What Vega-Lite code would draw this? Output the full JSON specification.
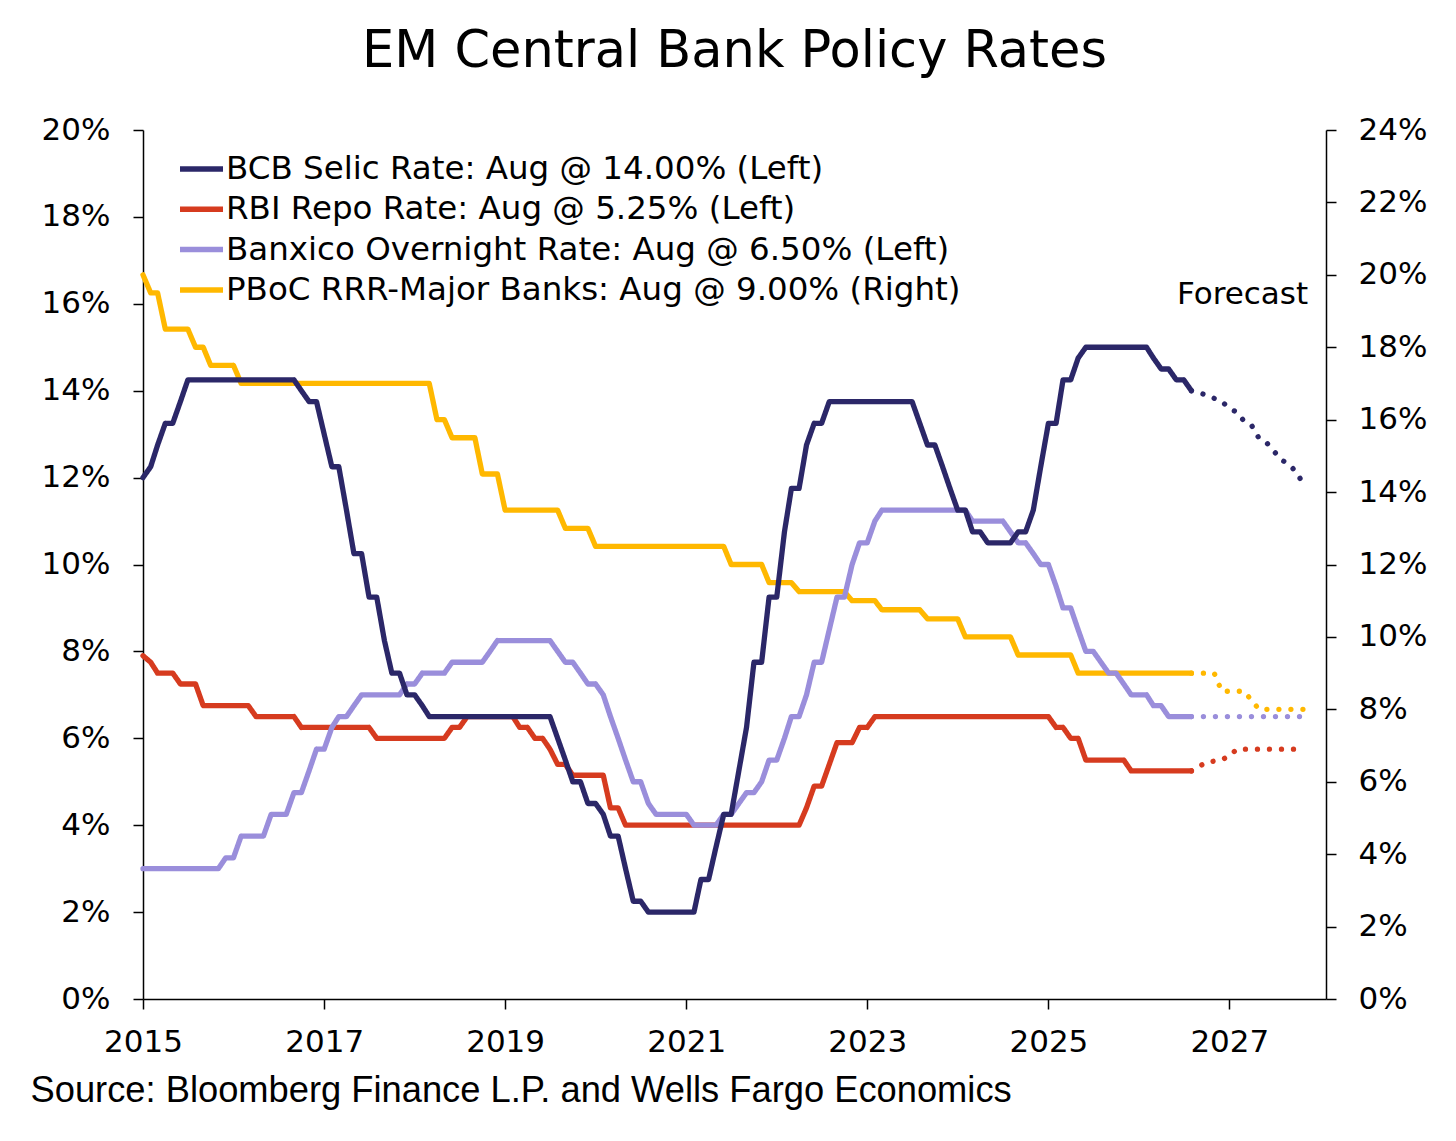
{
  "$schema": "https://vega.github.io/schema/vega-lite/v6.json",
  "width": 1183,
  "height": 869,
  "autosize": {"type": "none"},
  "padding": {"left": 143, "top": 130, "right": 130, "bottom": 142},
  "background": "white",
  "title": {
    "text": "EM Central Bank Policy Rates",
    "font": "DejaVu Sans",
    "fontSize": 51,
    "fontWeight": "normal",
    "color": "black",
    "anchor": "middle",
    "offset": 36
  },
  "config": {
    "view": {"stroke": null},
    "axis": {
      "domainColor": "black",
      "domainWidth": 1.5,
      "tickColor": "black",
      "tickWidth": 1.5,
      "tickSize": 10,
      "labelColor": "black",
      "labelFont": "DejaVu Sans",
      "labelFontSize": 31,
      "grid": false,
      "titleColor": "black"
    },
    "legend": {
      "orient": "none",
      "legendX": 34,
      "legendY": 23.5,
      "padding": 0,
      "symbolType": "stroke",
      "symbolSize": 1849,
      "symbolStrokeWidth": 5.5,
      "labelFont": "DejaVu Sans",
      "labelFontSize": 32.5,
      "labelColor": "black",
      "labelLimit": 1000,
      "labelOffset": 0,
      "clipHeight": 31,
      "rowPadding": 7.3
    }
  },
  "datasets": {
    "rates": [
      {"s": "PBOC", "d": "2015-01", "v": 20, "f": 0},
      {"s": "PBOC", "d": "2015-02", "v": 19.5, "f": 0},
      {"s": "PBOC", "d": "2015-03", "v": 19.5, "f": 0},
      {"s": "PBOC", "d": "2015-04", "v": 18.5, "f": 0},
      {"s": "PBOC", "d": "2015-07", "v": 18.5, "f": 0},
      {"s": "PBOC", "d": "2015-08", "v": 18, "f": 0},
      {"s": "PBOC", "d": "2015-09", "v": 18, "f": 0},
      {"s": "PBOC", "d": "2015-10", "v": 17.5, "f": 0},
      {"s": "PBOC", "d": "2016-01", "v": 17.5, "f": 0},
      {"s": "PBOC", "d": "2016-02", "v": 17, "f": 0},
      {"s": "PBOC", "d": "2018-03", "v": 17, "f": 0},
      {"s": "PBOC", "d": "2018-04", "v": 16, "f": 0},
      {"s": "PBOC", "d": "2018-05", "v": 16, "f": 0},
      {"s": "PBOC", "d": "2018-06", "v": 15.5, "f": 0},
      {"s": "PBOC", "d": "2018-09", "v": 15.5, "f": 0},
      {"s": "PBOC", "d": "2018-10", "v": 14.5, "f": 0},
      {"s": "PBOC", "d": "2018-12", "v": 14.5, "f": 0},
      {"s": "PBOC", "d": "2019-01", "v": 13.5, "f": 0},
      {"s": "PBOC", "d": "2019-08", "v": 13.5, "f": 0},
      {"s": "PBOC", "d": "2019-09", "v": 13, "f": 0},
      {"s": "PBOC", "d": "2019-12", "v": 13, "f": 0},
      {"s": "PBOC", "d": "2020-01", "v": 12.5, "f": 0},
      {"s": "PBOC", "d": "2021-06", "v": 12.5, "f": 0},
      {"s": "PBOC", "d": "2021-07", "v": 12, "f": 0},
      {"s": "PBOC", "d": "2021-11", "v": 12, "f": 0},
      {"s": "PBOC", "d": "2021-12", "v": 11.5, "f": 0},
      {"s": "PBOC", "d": "2022-03", "v": 11.5, "f": 0},
      {"s": "PBOC", "d": "2022-04", "v": 11.25, "f": 0},
      {"s": "PBOC", "d": "2022-10", "v": 11.25, "f": 0},
      {"s": "PBOC", "d": "2022-11", "v": 11, "f": 0},
      {"s": "PBOC", "d": "2023-02", "v": 11, "f": 0},
      {"s": "PBOC", "d": "2023-03", "v": 10.75, "f": 0},
      {"s": "PBOC", "d": "2023-08", "v": 10.75, "f": 0},
      {"s": "PBOC", "d": "2023-09", "v": 10.5, "f": 0},
      {"s": "PBOC", "d": "2024-01", "v": 10.5, "f": 0},
      {"s": "PBOC", "d": "2024-02", "v": 10, "f": 0},
      {"s": "PBOC", "d": "2024-08", "v": 10, "f": 0},
      {"s": "PBOC", "d": "2024-09", "v": 9.5, "f": 0},
      {"s": "PBOC", "d": "2025-04", "v": 9.5, "f": 0},
      {"s": "PBOC", "d": "2025-05", "v": 9, "f": 0},
      {"s": "PBOC", "d": "2026-08", "v": 9, "f": 0},
      {"s": "PBOC", "d": "2026-08", "v": 9, "f": 1},
      {"s": "PBOC", "d": "2026-11", "v": 9, "f": 1},
      {"s": "PBOC", "d": "2026-12", "v": 8.5, "f": 1},
      {"s": "PBOC", "d": "2027-03", "v": 8.5, "f": 1},
      {"s": "PBOC", "d": "2027-05", "v": 8, "f": 1},
      {"s": "PBOC", "d": "2027-11", "v": 8, "f": 1},

      {"s": "RBI", "d": "2015-01", "v": 7.9, "f": 0},
      {"s": "RBI", "d": "2015-02", "v": 7.75, "f": 0},
      {"s": "RBI", "d": "2015-03", "v": 7.5, "f": 0},
      {"s": "RBI", "d": "2015-05", "v": 7.5, "f": 0},
      {"s": "RBI", "d": "2015-06", "v": 7.25, "f": 0},
      {"s": "RBI", "d": "2015-08", "v": 7.25, "f": 0},
      {"s": "RBI", "d": "2015-09", "v": 6.75, "f": 0},
      {"s": "RBI", "d": "2016-03", "v": 6.75, "f": 0},
      {"s": "RBI", "d": "2016-04", "v": 6.5, "f": 0},
      {"s": "RBI", "d": "2016-09", "v": 6.5, "f": 0},
      {"s": "RBI", "d": "2016-10", "v": 6.25, "f": 0},
      {"s": "RBI", "d": "2017-07", "v": 6.25, "f": 0},
      {"s": "RBI", "d": "2017-08", "v": 6, "f": 0},
      {"s": "RBI", "d": "2018-05", "v": 6, "f": 0},
      {"s": "RBI", "d": "2018-06", "v": 6.25, "f": 0},
      {"s": "RBI", "d": "2018-07", "v": 6.25, "f": 0},
      {"s": "RBI", "d": "2018-08", "v": 6.5, "f": 0},
      {"s": "RBI", "d": "2019-02", "v": 6.5, "f": 0},
      {"s": "RBI", "d": "2019-03", "v": 6.25, "f": 0},
      {"s": "RBI", "d": "2019-04", "v": 6.25, "f": 0},
      {"s": "RBI", "d": "2019-05", "v": 6, "f": 0},
      {"s": "RBI", "d": "2019-06", "v": 6, "f": 0},
      {"s": "RBI", "d": "2019-07", "v": 5.75, "f": 0},
      {"s": "RBI", "d": "2019-08", "v": 5.4, "f": 0},
      {"s": "RBI", "d": "2019-09", "v": 5.4, "f": 0},
      {"s": "RBI", "d": "2019-10", "v": 5.15, "f": 0},
      {"s": "RBI", "d": "2020-02", "v": 5.15, "f": 0},
      {"s": "RBI", "d": "2020-03", "v": 4.4, "f": 0},
      {"s": "RBI", "d": "2020-04", "v": 4.4, "f": 0},
      {"s": "RBI", "d": "2020-05", "v": 4, "f": 0},
      {"s": "RBI", "d": "2022-04", "v": 4, "f": 0},
      {"s": "RBI", "d": "2022-05", "v": 4.4, "f": 0},
      {"s": "RBI", "d": "2022-06", "v": 4.9, "f": 0},
      {"s": "RBI", "d": "2022-07", "v": 4.9, "f": 0},
      {"s": "RBI", "d": "2022-08", "v": 5.4, "f": 0},
      {"s": "RBI", "d": "2022-09", "v": 5.9, "f": 0},
      {"s": "RBI", "d": "2022-11", "v": 5.9, "f": 0},
      {"s": "RBI", "d": "2022-12", "v": 6.25, "f": 0},
      {"s": "RBI", "d": "2023-01", "v": 6.25, "f": 0},
      {"s": "RBI", "d": "2023-02", "v": 6.5, "f": 0},
      {"s": "RBI", "d": "2025-01", "v": 6.5, "f": 0},
      {"s": "RBI", "d": "2025-02", "v": 6.25, "f": 0},
      {"s": "RBI", "d": "2025-03", "v": 6.25, "f": 0},
      {"s": "RBI", "d": "2025-04", "v": 6, "f": 0},
      {"s": "RBI", "d": "2025-05", "v": 6, "f": 0},
      {"s": "RBI", "d": "2025-06", "v": 5.5, "f": 0},
      {"s": "RBI", "d": "2025-11", "v": 5.5, "f": 0},
      {"s": "RBI", "d": "2025-12", "v": 5.25, "f": 0},
      {"s": "RBI", "d": "2026-08", "v": 5.25, "f": 0},
      {"s": "RBI", "d": "2026-08", "v": 5.25, "f": 1},
      {"s": "RBI", "d": "2026-10", "v": 5.45, "f": 1},
      {"s": "RBI", "d": "2026-12", "v": 5.5, "f": 1},
      {"s": "RBI", "d": "2027-01", "v": 5.6, "f": 1},
      {"s": "RBI", "d": "2027-02", "v": 5.75, "f": 1},
      {"s": "RBI", "d": "2027-11", "v": 5.75, "f": 1},

      {"s": "BNX", "d": "2015-01", "v": 3, "f": 0},
      {"s": "BNX", "d": "2015-11", "v": 3, "f": 0},
      {"s": "BNX", "d": "2015-12", "v": 3.25, "f": 0},
      {"s": "BNX", "d": "2016-01", "v": 3.25, "f": 0},
      {"s": "BNX", "d": "2016-02", "v": 3.75, "f": 0},
      {"s": "BNX", "d": "2016-05", "v": 3.75, "f": 0},
      {"s": "BNX", "d": "2016-06", "v": 4.25, "f": 0},
      {"s": "BNX", "d": "2016-08", "v": 4.25, "f": 0},
      {"s": "BNX", "d": "2016-09", "v": 4.75, "f": 0},
      {"s": "BNX", "d": "2016-10", "v": 4.75, "f": 0},
      {"s": "BNX", "d": "2016-11", "v": 5.25, "f": 0},
      {"s": "BNX", "d": "2016-12", "v": 5.75, "f": 0},
      {"s": "BNX", "d": "2017-01", "v": 5.75, "f": 0},
      {"s": "BNX", "d": "2017-02", "v": 6.25, "f": 0},
      {"s": "BNX", "d": "2017-03", "v": 6.5, "f": 0},
      {"s": "BNX", "d": "2017-04", "v": 6.5, "f": 0},
      {"s": "BNX", "d": "2017-05", "v": 6.75, "f": 0},
      {"s": "BNX", "d": "2017-06", "v": 7, "f": 0},
      {"s": "BNX", "d": "2017-11", "v": 7, "f": 0},
      {"s": "BNX", "d": "2017-12", "v": 7.25, "f": 0},
      {"s": "BNX", "d": "2018-01", "v": 7.25, "f": 0},
      {"s": "BNX", "d": "2018-02", "v": 7.5, "f": 0},
      {"s": "BNX", "d": "2018-05", "v": 7.5, "f": 0},
      {"s": "BNX", "d": "2018-06", "v": 7.75, "f": 0},
      {"s": "BNX", "d": "2018-10", "v": 7.75, "f": 0},
      {"s": "BNX", "d": "2018-11", "v": 8, "f": 0},
      {"s": "BNX", "d": "2018-12", "v": 8.25, "f": 0},
      {"s": "BNX", "d": "2019-07", "v": 8.25, "f": 0},
      {"s": "BNX", "d": "2019-08", "v": 8, "f": 0},
      {"s": "BNX", "d": "2019-09", "v": 7.75, "f": 0},
      {"s": "BNX", "d": "2019-10", "v": 7.75, "f": 0},
      {"s": "BNX", "d": "2019-11", "v": 7.5, "f": 0},
      {"s": "BNX", "d": "2019-12", "v": 7.25, "f": 0},
      {"s": "BNX", "d": "2020-01", "v": 7.25, "f": 0},
      {"s": "BNX", "d": "2020-02", "v": 7, "f": 0},
      {"s": "BNX", "d": "2020-03", "v": 6.5, "f": 0},
      {"s": "BNX", "d": "2020-04", "v": 6, "f": 0},
      {"s": "BNX", "d": "2020-05", "v": 5.5, "f": 0},
      {"s": "BNX", "d": "2020-06", "v": 5, "f": 0},
      {"s": "BNX", "d": "2020-07", "v": 5, "f": 0},
      {"s": "BNX", "d": "2020-08", "v": 4.5, "f": 0},
      {"s": "BNX", "d": "2020-09", "v": 4.25, "f": 0},
      {"s": "BNX", "d": "2021-01", "v": 4.25, "f": 0},
      {"s": "BNX", "d": "2021-02", "v": 4, "f": 0},
      {"s": "BNX", "d": "2021-05", "v": 4, "f": 0},
      {"s": "BNX", "d": "2021-06", "v": 4.25, "f": 0},
      {"s": "BNX", "d": "2021-07", "v": 4.25, "f": 0},
      {"s": "BNX", "d": "2021-08", "v": 4.5, "f": 0},
      {"s": "BNX", "d": "2021-09", "v": 4.75, "f": 0},
      {"s": "BNX", "d": "2021-10", "v": 4.75, "f": 0},
      {"s": "BNX", "d": "2021-11", "v": 5, "f": 0},
      {"s": "BNX", "d": "2021-12", "v": 5.5, "f": 0},
      {"s": "BNX", "d": "2022-01", "v": 5.5, "f": 0},
      {"s": "BNX", "d": "2022-02", "v": 6, "f": 0},
      {"s": "BNX", "d": "2022-03", "v": 6.5, "f": 0},
      {"s": "BNX", "d": "2022-04", "v": 6.5, "f": 0},
      {"s": "BNX", "d": "2022-05", "v": 7, "f": 0},
      {"s": "BNX", "d": "2022-06", "v": 7.75, "f": 0},
      {"s": "BNX", "d": "2022-07", "v": 7.75, "f": 0},
      {"s": "BNX", "d": "2022-08", "v": 8.5, "f": 0},
      {"s": "BNX", "d": "2022-09", "v": 9.25, "f": 0},
      {"s": "BNX", "d": "2022-10", "v": 9.25, "f": 0},
      {"s": "BNX", "d": "2022-11", "v": 10, "f": 0},
      {"s": "BNX", "d": "2022-12", "v": 10.5, "f": 0},
      {"s": "BNX", "d": "2023-01", "v": 10.5, "f": 0},
      {"s": "BNX", "d": "2023-02", "v": 11, "f": 0},
      {"s": "BNX", "d": "2023-03", "v": 11.25, "f": 0},
      {"s": "BNX", "d": "2024-02", "v": 11.25, "f": 0},
      {"s": "BNX", "d": "2024-03", "v": 11, "f": 0},
      {"s": "BNX", "d": "2024-07", "v": 11, "f": 0},
      {"s": "BNX", "d": "2024-08", "v": 10.75, "f": 0},
      {"s": "BNX", "d": "2024-09", "v": 10.5, "f": 0},
      {"s": "BNX", "d": "2024-10", "v": 10.5, "f": 0},
      {"s": "BNX", "d": "2024-11", "v": 10.25, "f": 0},
      {"s": "BNX", "d": "2024-12", "v": 10, "f": 0},
      {"s": "BNX", "d": "2025-01", "v": 10, "f": 0},
      {"s": "BNX", "d": "2025-02", "v": 9.5, "f": 0},
      {"s": "BNX", "d": "2025-03", "v": 9, "f": 0},
      {"s": "BNX", "d": "2025-04", "v": 9, "f": 0},
      {"s": "BNX", "d": "2025-05", "v": 8.5, "f": 0},
      {"s": "BNX", "d": "2025-06", "v": 8, "f": 0},
      {"s": "BNX", "d": "2025-07", "v": 8, "f": 0},
      {"s": "BNX", "d": "2025-08", "v": 7.75, "f": 0},
      {"s": "BNX", "d": "2025-09", "v": 7.5, "f": 0},
      {"s": "BNX", "d": "2025-10", "v": 7.5, "f": 0},
      {"s": "BNX", "d": "2025-11", "v": 7.25, "f": 0},
      {"s": "BNX", "d": "2025-12", "v": 7, "f": 0},
      {"s": "BNX", "d": "2026-02", "v": 7, "f": 0},
      {"s": "BNX", "d": "2026-03", "v": 6.75, "f": 0},
      {"s": "BNX", "d": "2026-04", "v": 6.75, "f": 0},
      {"s": "BNX", "d": "2026-05", "v": 6.5, "f": 0},
      {"s": "BNX", "d": "2026-08", "v": 6.5, "f": 0},
      {"s": "BNX", "d": "2026-08", "v": 6.5, "f": 1},
      {"s": "BNX", "d": "2027-11", "v": 6.5, "f": 1},

      {"s": "BCB", "d": "2015-01", "v": 12, "f": 0},
      {"s": "BCB", "d": "2015-02", "v": 12.25, "f": 0},
      {"s": "BCB", "d": "2015-03", "v": 12.75, "f": 0},
      {"s": "BCB", "d": "2015-04", "v": 13.25, "f": 0},
      {"s": "BCB", "d": "2015-05", "v": 13.25, "f": 0},
      {"s": "BCB", "d": "2015-06", "v": 13.75, "f": 0},
      {"s": "BCB", "d": "2015-07", "v": 14.25, "f": 0},
      {"s": "BCB", "d": "2016-09", "v": 14.25, "f": 0},
      {"s": "BCB", "d": "2016-10", "v": 14, "f": 0},
      {"s": "BCB", "d": "2016-11", "v": 13.75, "f": 0},
      {"s": "BCB", "d": "2016-12", "v": 13.75, "f": 0},
      {"s": "BCB", "d": "2017-01", "v": 13, "f": 0},
      {"s": "BCB", "d": "2017-02", "v": 12.25, "f": 0},
      {"s": "BCB", "d": "2017-03", "v": 12.25, "f": 0},
      {"s": "BCB", "d": "2017-04", "v": 11.25, "f": 0},
      {"s": "BCB", "d": "2017-05", "v": 10.25, "f": 0},
      {"s": "BCB", "d": "2017-06", "v": 10.25, "f": 0},
      {"s": "BCB", "d": "2017-07", "v": 9.25, "f": 0},
      {"s": "BCB", "d": "2017-08", "v": 9.25, "f": 0},
      {"s": "BCB", "d": "2017-09", "v": 8.25, "f": 0},
      {"s": "BCB", "d": "2017-10", "v": 7.5, "f": 0},
      {"s": "BCB", "d": "2017-11", "v": 7.5, "f": 0},
      {"s": "BCB", "d": "2017-12", "v": 7, "f": 0},
      {"s": "BCB", "d": "2018-01", "v": 7, "f": 0},
      {"s": "BCB", "d": "2018-02", "v": 6.75, "f": 0},
      {"s": "BCB", "d": "2018-03", "v": 6.5, "f": 0},
      {"s": "BCB", "d": "2019-07", "v": 6.5, "f": 0},
      {"s": "BCB", "d": "2019-08", "v": 6, "f": 0},
      {"s": "BCB", "d": "2019-09", "v": 5.5, "f": 0},
      {"s": "BCB", "d": "2019-10", "v": 5, "f": 0},
      {"s": "BCB", "d": "2019-11", "v": 5, "f": 0},
      {"s": "BCB", "d": "2019-12", "v": 4.5, "f": 0},
      {"s": "BCB", "d": "2020-01", "v": 4.5, "f": 0},
      {"s": "BCB", "d": "2020-02", "v": 4.25, "f": 0},
      {"s": "BCB", "d": "2020-03", "v": 3.75, "f": 0},
      {"s": "BCB", "d": "2020-04", "v": 3.75, "f": 0},
      {"s": "BCB", "d": "2020-05", "v": 3, "f": 0},
      {"s": "BCB", "d": "2020-06", "v": 2.25, "f": 0},
      {"s": "BCB", "d": "2020-07", "v": 2.25, "f": 0},
      {"s": "BCB", "d": "2020-08", "v": 2, "f": 0},
      {"s": "BCB", "d": "2021-02", "v": 2, "f": 0},
      {"s": "BCB", "d": "2021-03", "v": 2.75, "f": 0},
      {"s": "BCB", "d": "2021-04", "v": 2.75, "f": 0},
      {"s": "BCB", "d": "2021-05", "v": 3.5, "f": 0},
      {"s": "BCB", "d": "2021-06", "v": 4.25, "f": 0},
      {"s": "BCB", "d": "2021-07", "v": 4.25, "f": 0},
      {"s": "BCB", "d": "2021-08", "v": 5.25, "f": 0},
      {"s": "BCB", "d": "2021-09", "v": 6.25, "f": 0},
      {"s": "BCB", "d": "2021-10", "v": 7.75, "f": 0},
      {"s": "BCB", "d": "2021-11", "v": 7.75, "f": 0},
      {"s": "BCB", "d": "2021-12", "v": 9.25, "f": 0},
      {"s": "BCB", "d": "2022-01", "v": 9.25, "f": 0},
      {"s": "BCB", "d": "2022-02", "v": 10.75, "f": 0},
      {"s": "BCB", "d": "2022-03", "v": 11.75, "f": 0},
      {"s": "BCB", "d": "2022-04", "v": 11.75, "f": 0},
      {"s": "BCB", "d": "2022-05", "v": 12.75, "f": 0},
      {"s": "BCB", "d": "2022-06", "v": 13.25, "f": 0},
      {"s": "BCB", "d": "2022-07", "v": 13.25, "f": 0},
      {"s": "BCB", "d": "2022-08", "v": 13.75, "f": 0},
      {"s": "BCB", "d": "2023-07", "v": 13.75, "f": 0},
      {"s": "BCB", "d": "2023-08", "v": 13.25, "f": 0},
      {"s": "BCB", "d": "2023-09", "v": 12.75, "f": 0},
      {"s": "BCB", "d": "2023-10", "v": 12.75, "f": 0},
      {"s": "BCB", "d": "2023-11", "v": 12.25, "f": 0},
      {"s": "BCB", "d": "2023-12", "v": 11.75, "f": 0},
      {"s": "BCB", "d": "2024-01", "v": 11.25, "f": 0},
      {"s": "BCB", "d": "2024-02", "v": 11.25, "f": 0},
      {"s": "BCB", "d": "2024-03", "v": 10.75, "f": 0},
      {"s": "BCB", "d": "2024-04", "v": 10.75, "f": 0},
      {"s": "BCB", "d": "2024-05", "v": 10.5, "f": 0},
      {"s": "BCB", "d": "2024-08", "v": 10.5, "f": 0},
      {"s": "BCB", "d": "2024-09", "v": 10.75, "f": 0},
      {"s": "BCB", "d": "2024-10", "v": 10.75, "f": 0},
      {"s": "BCB", "d": "2024-11", "v": 11.25, "f": 0},
      {"s": "BCB", "d": "2024-12", "v": 12.25, "f": 0},
      {"s": "BCB", "d": "2025-01", "v": 13.25, "f": 0},
      {"s": "BCB", "d": "2025-02", "v": 13.25, "f": 0},
      {"s": "BCB", "d": "2025-03", "v": 14.25, "f": 0},
      {"s": "BCB", "d": "2025-04", "v": 14.25, "f": 0},
      {"s": "BCB", "d": "2025-05", "v": 14.75, "f": 0},
      {"s": "BCB", "d": "2025-06", "v": 15, "f": 0},
      {"s": "BCB", "d": "2026-02", "v": 15, "f": 0},
      {"s": "BCB", "d": "2026-03", "v": 14.75, "f": 0},
      {"s": "BCB", "d": "2026-04", "v": 14.5, "f": 0},
      {"s": "BCB", "d": "2026-05", "v": 14.5, "f": 0},
      {"s": "BCB", "d": "2026-06", "v": 14.25, "f": 0},
      {"s": "BCB", "d": "2026-07", "v": 14.25, "f": 0},
      {"s": "BCB", "d": "2026-08", "v": 14, "f": 0},
      {"s": "BCB", "d": "2026-08", "v": 14, "f": 1},
      {"s": "BCB", "d": "2026-10", "v": 13.9, "f": 1},
      {"s": "BCB", "d": "2026-12", "v": 13.75, "f": 1},
      {"s": "BCB", "d": "2027-01", "v": 13.6, "f": 1},
      {"s": "BCB", "d": "2027-02", "v": 13.5, "f": 1},
      {"s": "BCB", "d": "2027-03", "v": 13.3, "f": 1},
      {"s": "BCB", "d": "2027-04", "v": 13.2, "f": 1},
      {"s": "BCB", "d": "2027-05", "v": 12.9, "f": 1},
      {"s": "BCB", "d": "2027-06", "v": 12.8, "f": 1},
      {"s": "BCB", "d": "2027-07", "v": 12.6, "f": 1},
      {"s": "BCB", "d": "2027-08", "v": 12.4, "f": 1},
      {"s": "BCB", "d": "2027-09", "v": 12.3, "f": 1},
      {"s": "BCB", "d": "2027-10", "v": 12.1, "f": 1},
      {"s": "BCB", "d": "2027-11", "v": 11.8, "f": 1}
    ]
  },
  "data": {"name": "rates"},
  "encoding": {
    "x": {
      "field": "d",
      "type": "temporal",
      "scale": {"domain": [{"year": 2015, "month": 1, "date": 1}, {"year": 2028, "month": 1, "date": 26}]},
      "axis": {
        "values": [{"year": 2015}, {"year": 2017}, {"year": 2019}, {"year": 2021}, {"year": 2023}, {"year": 2025}, {"year": 2027}],
        "format": "%Y",
        "labelFlush": false,
        "labelOverlap": false,
        "labelPadding": 18,
        "title": "Source: Bloomberg Finance L.P. and Wells Fargo Economics",
        "titleFont": "Liberation Sans",
        "titleFontSize": 36.3,
        "titleFontWeight": "normal",
        "titleAnchor": "start",
        "titleAlign": "left",
        "titleX": -113,
        "titlePadding": 15
      }
    },
    "color": {
      "field": "s",
      "type": "nominal",
      "scale": {
        "domain": ["BCB", "RBI", "BNX", "PBOC"],
        "range": ["#2B2768", "#D63B1F", "#9A8EDB", "#FFB800"]
      },
      "legend": {
        "title": null,
        "labelExpr": "datum.label == 'BCB' ? 'BCB Selic Rate: Aug @ 14.00% (Left)' : datum.label == 'RBI' ? 'RBI Repo Rate: Aug @ 5.25% (Left)' : datum.label == 'BNX' ? 'Banxico Overnight Rate: Aug @ 6.50% (Left)' : 'PBoC RRR-Major Banks: Aug @ 9.00% (Right)'"
      }
    },
    "strokeDash": {
      "field": "f",
      "type": "nominal",
      "scale": {"domain": [0, 1], "range": [[1, 0], [0.01, 12]]},
      "legend": null
    }
  },
  "layer": [
    {
      "transform": [{"filter": "datum.s == 'PBOC'"}],
      "mark": {"type": "line", "strokeWidth": 5.3, "strokeCap": "round", "strokeJoin": "round"},
      "encoding": {
        "y": {
          "field": "v",
          "type": "quantitative",
          "scale": {"domain": [0, 24]},
          "axis": {
            "orient": "right",
            "values": [0, 2, 4, 6, 8, 10, 12, 14, 16, 18, 20, 22, 24],
            "labelExpr": "datum.value + '%'",
            "labelPadding": 22,
            "title": null
          }
        }
      }
    },
    {
      "layer": [
        {
          "transform": [{"filter": "datum.s != 'PBOC'"}],
          "mark": {"type": "line", "strokeWidth": 5.3, "strokeCap": "round", "strokeJoin": "round"}
        },
        {
          "data": {"values": [{"d": "2027-11-15", "v": 16.0, "t": "Forecast"}]},
          "mark": {"type": "text", "align": "right", "baseline": "alphabetic", "font": "DejaVu Sans", "fontSize": 31, "color": "black"},
          "encoding": {
            "text": {"field": "t", "type": "nominal"},
            "color": {"value": "black"},
            "strokeDash": {"value": [1, 0]}
          }
        }
      ],
      "encoding": {
        "y": {
          "field": "v",
          "type": "quantitative",
          "scale": {"domain": [0, 20]},
          "axis": {
            "orient": "left",
            "values": [0, 2, 4, 6, 8, 10, 12, 14, 16, 18, 20],
            "labelExpr": "datum.value + '%'",
            "labelPadding": 23,
            "title": null
          }
        }
      }
    }
  ],
  "resolve": {"scale": {"y": "independent"}}
}
